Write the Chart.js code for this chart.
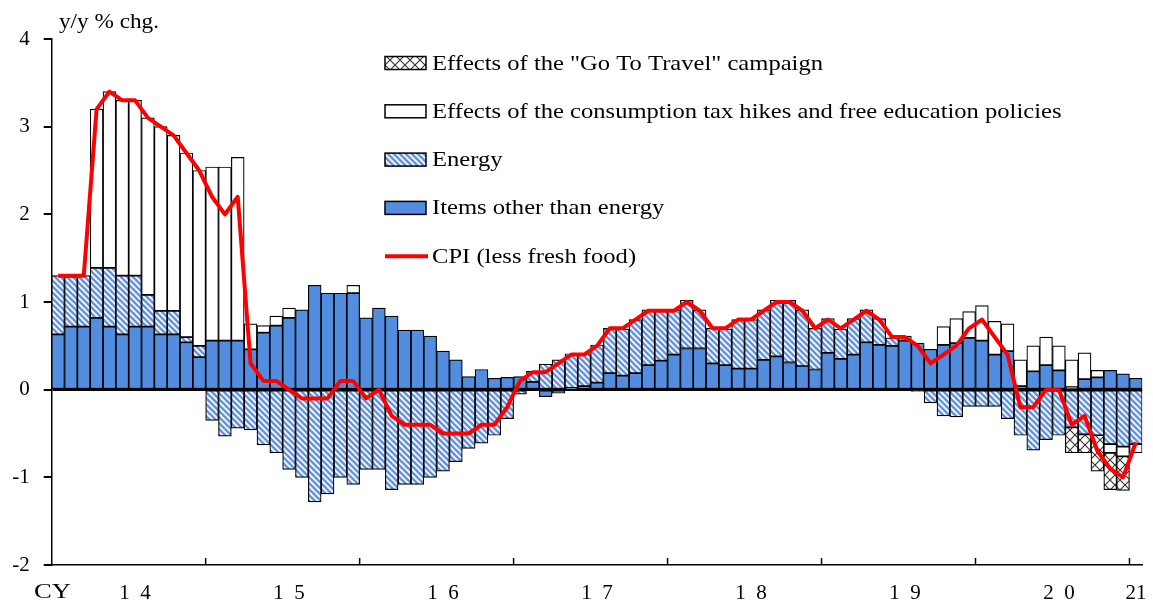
<!DOCTYPE html>
<html><head><meta charset="utf-8">
<script src="https://cdn.jsdelivr.net/npm/chart.js@4.4.1/dist/chart.umd.min.js"></script>
<style>html,body{margin:0;padding:0;background:#fff;}canvas{display:block;}</style>
</head><body>
<canvas id="c" width="1153" height="608"></canvas>
<script>
// ---- data ----
const startYear = 2014, monthCount = 85;
const categories = [];
for (let i = 0; i < monthCount; i++) {
  const y = startYear + Math.floor(i / 12), m = (i % 12) + 1;
  categories.push(y + '-' + (m < 10 ? '0' + m : m));
}
const yearTickAt = ['2014-07','2015-07','2016-07','2017-07','2018-07','2019-07','2020-07','2021-01'];
const yearTickText = ['1  4','1  5','1  6','1  7','1  8','1  9','2  0','21'];
const yTicks = [4,3,2,1,0,-1,-2];

const otherItems = [0.63,0.72,0.72,0.82,0.72,0.63,0.72,0.72,0.63,0.63,0.54,0.37,
0.56,0.56,0.56,0.46,0.65,0.73,0.82,0.91,1.19,1.10,1.10,1.10,
0.82,0.93,0.84,0.68,0.68,0.61,0.44,0.34,0.15,0.23,0.13,0.14,
0.15,0.09,-0.08,-0.04,0.02,0.04,0.08,0.19,0.16,0.19,0.28,0.33,
0.40,0.47,0.47,0.30,0.28,0.24,0.24,0.34,0.38,0.31,0.27,0.23,
0.42,0.35,0.40,0.54,0.51,0.50,0.56,0.53,0.46,0.51,0.53,0.59,
0.56,0.40,0.44,0.04,0.21,0.28,0.22,0.03,0.12,0.14,0.22,0.18,
0.13];
const energy = [0.67,0.57,0.58,0.57,0.67,0.67,0.58,0.36,0.27,0.27,0.06,0.13,
-0.35,-0.53,-0.44,-0.46,-0.63,-0.72,-0.91,-1.00,-1.28,-1.19,-1.00,-1.08,
-0.91,-0.91,-1.14,-1.08,-1.08,-1.00,-0.93,-0.82,-0.67,-0.61,-0.52,-0.33,
-0.05,0.12,0.29,0.34,0.39,0.37,0.43,0.51,0.53,0.61,0.63,0.58,
0.51,0.55,0.44,0.40,0.41,0.56,0.56,0.57,0.64,0.71,0.64,0.47,
0.39,0.34,0.41,0.37,0.30,0.09,0.05,-0.02,-0.15,-0.30,-0.31,-0.19,
-0.19,-0.19,-0.33,-0.52,-0.69,-0.57,-0.52,-0.43,-0.51,-0.52,-0.62,-0.65,
-0.62];
const taxEducation = [0,0,0,1.81,2.01,2.00,2.00,2.02,2.10,2.00,2.10,2.00,
1.98,1.98,2.09,0.29,0.08,0.11,0.11,0,0,0,0,0.09,
0,0,0,0,0,0,0,0,0,0,0,0,
0,0,0,0,0,0,0,0,0,0,0,0,
0,0,0,0,0,0,0,0,0,0,0,0,
0,0,0,0,0,0,0,0,0,0.21,0.28,0.30,
0.40,0.38,0.31,0.30,0.29,0.32,0.28,0.31,0.30,0.08,-0.10,-0.11,
-0.10];
const goToTravel = [0,0,0,0,0,0,0,0,0,0,0,0,
0,0,0,0,0,0,0,0,0,0,0,0,
0,0,0,0,0,0,0,0,0,0,0,0,
0,0,0,0,0,0,0,0,0,0,0,0,
0,0,0,0,0,0,0,0,0,0,0,0,
0,0,0,0,0,0,0,0,0,0,0,0,
0,0,0,0,0,0,0,-0.29,-0.21,-0.41,-0.42,-0.39,
0];
const cpi = [1.3,1.3,1.3,3.2,3.4,3.3,3.3,3.1,3.0,2.9,2.7,2.5,
2.2,2.0,2.2,0.3,0.1,0.1,0.0,-0.1,-0.1,-0.1,0.1,0.1,
-0.1,0.0,-0.3,-0.4,-0.4,-0.4,-0.5,-0.5,-0.5,-0.4,-0.4,-0.2,
0.1,0.2,0.2,0.3,0.4,0.4,0.5,0.7,0.7,0.8,0.9,0.9,
0.9,1.0,0.9,0.7,0.7,0.8,0.8,0.9,1.0,1.0,0.9,0.7,
0.8,0.7,0.8,0.9,0.8,0.6,0.6,0.5,0.3,0.4,0.5,0.7,
0.8,0.6,0.4,-0.2,-0.2,0.0,0.0,-0.4,-0.3,-0.7,-0.9,-1.0,
-0.6];
const seriesNames = ['Items other than energy','Energy',
  'Effects of the consumption tax hikes and free education policies',
  'Effects of the "Go To Travel" campaign','CPI (less fresh food)'];
const titleText = 'y/y % chg.';
const axisPrefix = 'CY';

// ---- styles ----
const FONT = '"Liberation Serif", "Times New Roman", serif';
const canvas = document.getElementById('c');
const ctx = canvas.getContext('2d');
function hatch() {
  const s = 6, c = document.createElement('canvas'); c.width = s; c.height = s;
  const g = c.getContext('2d');
  g.fillStyle = '#ffffff'; g.fillRect(0,0,s,s);
  g.strokeStyle = '#6496e0'; g.lineWidth = 2.6;
  g.beginPath();
  g.moveTo(-2,-2); g.lineTo(s+2,s+2);
  g.moveTo(-2-s,-2); g.lineTo(2,s+2);
  g.moveTo(-2+s,-2); g.lineTo(2*s+2,s+2);
  g.stroke();
  return ctx.createPattern(c,'repeat');
}
function cross() {
  const s = 10, c = document.createElement('canvas'); c.width = s; c.height = s;
  const g = c.getContext('2d');
  g.fillStyle = '#ffffff'; g.fillRect(0,0,s,s);
  g.strokeStyle = '#333333'; g.lineWidth = 1.1;
  g.beginPath();
  g.moveTo(0,0); g.lineTo(s,s); g.moveTo(s,0); g.lineTo(0,s);
  g.stroke();
  return ctx.createPattern(c,'repeat');
}
const BLUE = '#538de0';
const fills = [BLUE, hatch(), '#ffffff', cross()];
const barCommon = {type:'bar', stack:'s', borderColor:'#000', borderWidth:1.2, borderSkipped:false,
  barPercentage:1, categoryPercentage:1, order:2};

function stretchedText(g, text, x, y, targetWidth) {
  const w = g.measureText(text).width;
  g.save(); g.translate(x, y); g.scale(targetWidth / w, 1); g.fillText(text, 0, 0); g.restore();
}

const legendPlugin = {
  id:'customLegend',
  afterDraw(chart) {
    const g = chart.ctx;
    g.save();
    g.fillStyle = '#000'; g.textAlign = 'left';
    // title
    g.font = '21px ' + FONT; g.textBaseline = 'alphabetic';
    stretchedText(g, titleText, 59, 28, 100);
    // legend
    const items = [3,2,1,0,4];
    const x0 = 385, y0 = 63, step = 48.3;
    g.font = '21px ' + FONT; g.textBaseline = 'middle';
    const sx = 391 / g.measureText(seriesNames[3]).width;
    items.forEach((di, k) => {
      const y = y0 + k * step;
      if (di === 4) {
        g.strokeStyle = '#ff0000'; g.lineWidth = 4;
        g.beginPath(); g.moveTo(x0, y); g.lineTo(x0 + 43, y); g.stroke();
      } else {
        g.fillStyle = fills[di]; g.fillRect(x0, y - 6.5, 41, 13);
        g.strokeStyle = '#000'; g.lineWidth = 1.5; g.strokeRect(x0, y - 6.5, 41, 13);
      }
      g.fillStyle = '#000';
      const w = g.measureText(seriesNames[di]).width;
      stretchedText(g, seriesNames[di], 432, y + 1, w * sx);
    });
    // year tick marks on x axis (inside)
    const xs = chart.scales.x, ys = chart.scales.y;
    const bottom = ys.getPixelForValue(-2);
    g.strokeStyle = '#000'; g.lineWidth = 1.5;
    categories.forEach((c, i) => {
      if (i > 0 && c.endsWith('-01')) {
        const x = (xs.getPixelForValue(i - 1) + xs.getPixelForValue(i)) / 2;
        g.beginPath(); g.moveTo(x, bottom); g.lineTo(x, bottom - 7); g.stroke();
      }
    });
    // CY prefix
    g.font = '21px ' + FONT; g.textBaseline = 'top'; g.fillStyle = '#000';
    stretchedText(g, axisPrefix, 34, 582, 37);
    g.restore();
  }
};

new Chart(ctx, {
  data: {
    labels: categories,
    datasets: [
      Object.assign({}, barCommon, {label: seriesNames[0], data: otherItems, backgroundColor: fills[0]}),
      Object.assign({}, barCommon, {label: seriesNames[1], data: energy, backgroundColor: fills[1]}),
      Object.assign({}, barCommon, {label: seriesNames[2], data: taxEducation, backgroundColor: fills[2]}),
      Object.assign({}, barCommon, {label: seriesNames[3], data: goToTravel, backgroundColor: fills[3]}),
      {type:'line', label: seriesNames[4], data: cpi, stack:'cpi', borderColor:'#ff0000', borderWidth:4,
        pointRadius:0, tension:0, fill:false, order:0, borderJoinStyle:'round'}
    ]
  },
  options: {
    responsive:false, animation:false, devicePixelRatio:1,
    layout:{padding:{top:39, right:10.7, left:0, bottom:0}},
    plugins:{legend:{display:false}, tooltip:{enabled:false}},
    scales:{
      x:{stacked:true, offset:true,
        grid:{display:true, drawOnChartArea:false, drawTicks:true, tickLength:16, tickColor:'rgba(0,0,0,0)'},
        border:{display:true, color:'#000', width:1.5},
        ticks:{autoSkip:false, maxRotation:0, minRotation:0, padding:0, color:'#000',
          font:{family:FONT, size:21},
          callback:(v, i) => { const k = yearTickAt.indexOf(categories[i]); return k >= 0 ? yearTickText[k] : ''; }},
        afterFit:(s) => { s.height = 43; s.paddingRight = 0; s.paddingLeft = 0; }
      },
      y:{stacked:true, min:-2, max:4,
        afterBuildTicks:(s) => { s.ticks = yTicks.map(v => ({value:v})); },
        grid:{color:(c) => (c.tick && c.tick.value === 0 ? '#000' : 'rgba(0,0,0,0)'), lineWidth:2,
          tickColor:'#000', tickLength:8, drawTicks:true},
        border:{display:true, color:'#000', width:1.5},
        ticks:{padding:14, color:'#000', font:{family:FONT, size:21}},
        afterFit:(s) => { s.width = 51.7; }
      }
    }
  },
  plugins:[legendPlugin]
});
</script>
</body></html>
